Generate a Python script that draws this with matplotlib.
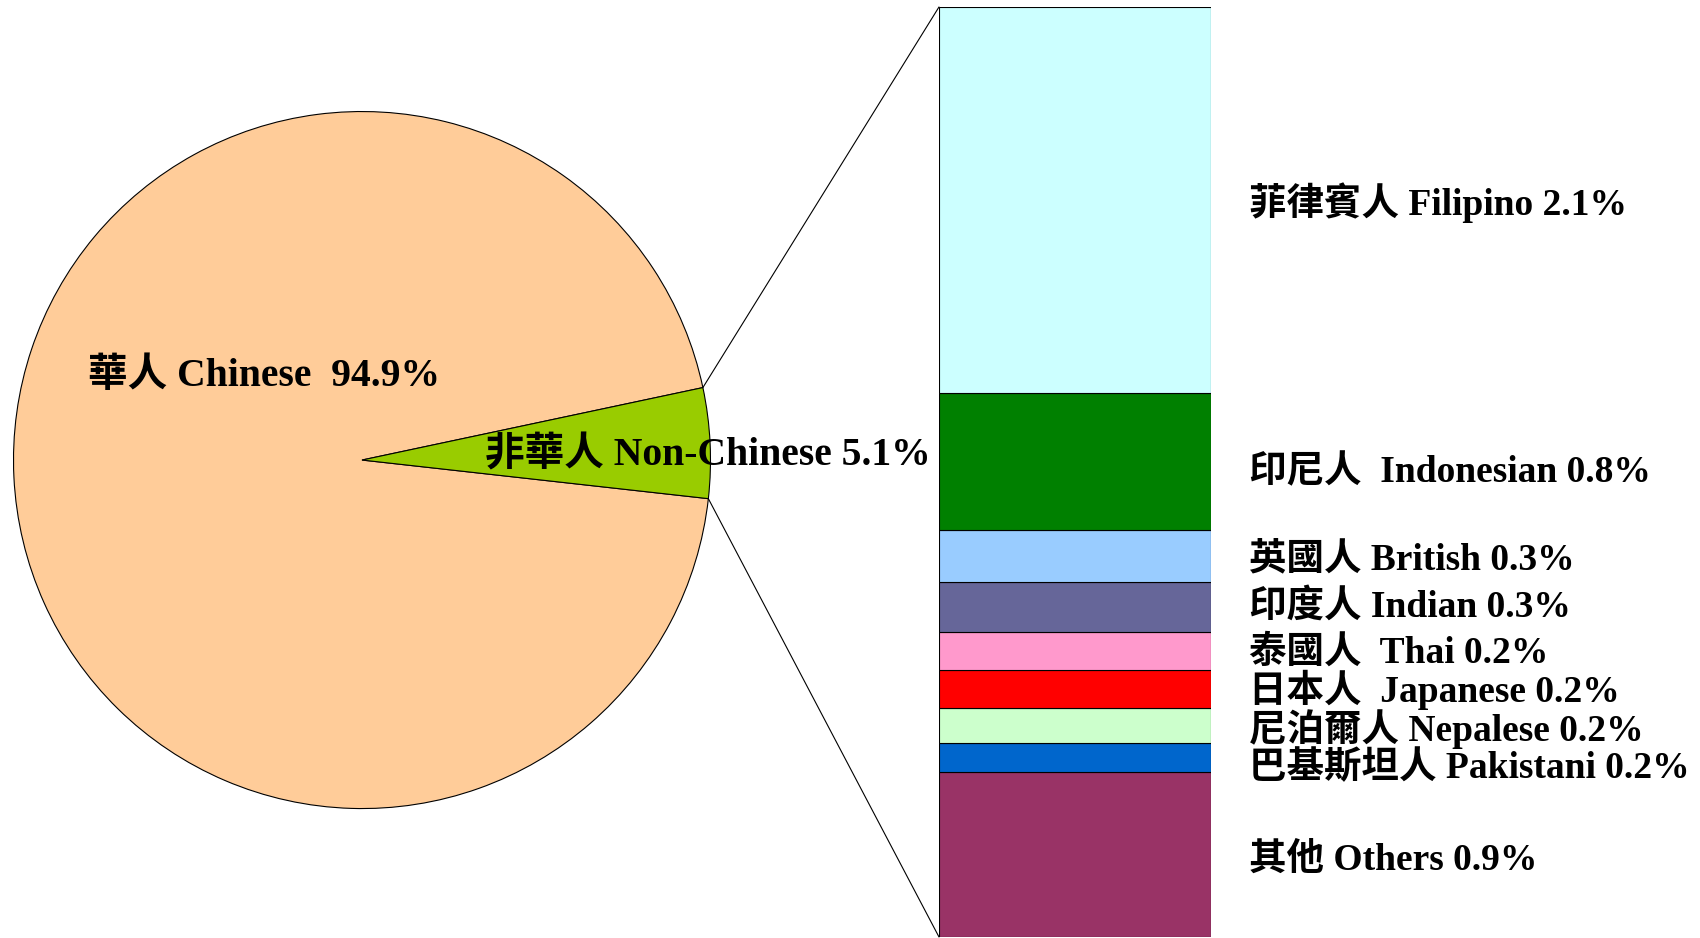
import matplotlib
matplotlib.use("Agg")
import matplotlib.pyplot as plt
from matplotlib.patches import ConnectionPatch
import numpy as np

# ---- data ----
pie_labels = ["華人 Chinese  94.9%", "非華人 Non-Chinese 5.1%"]
pie_values = [94.9, 5.1]
pie_colors = ["#FFCC99", "#99CC00"]

# breakdown of non-Chinese (top to bottom in the bar)
sub_labels = ["菲律賓人 Filipino 2.1%", "印尼人  Indonesian 0.8%", "英國人 British 0.3%",
              "印度人 Indian 0.3%", "泰國人  Thai 0.2%", "日本人  Japanese 0.2%",
              "尼泊爾人 Nepalese 0.2%", "巴基斯坦人 Pakistani 0.2%", "其他 Others 0.9%"]
sub_values = [2.12, 0.75, 0.285, 0.274, 0.208, 0.208, 0.19, 0.161, 0.905]
sub_colors = ["#CCFFFF", "#008000", "#99CCFF", "#666699", "#FF99CC", "#FF0000",
              "#CCFFCC", "#0066CC", "#993366"]

# layout: small vertical nudges of the right-hand labels (pixels, downward)
label_nudge_px = [2, 11, 3, 0, 2, 1, 4, 11, 6]

FONT = ["Liberation Serif", "Noto Sans CJK TC"]
FS_PIE = 28.5
FS_SUB = 27

fig = plt.figure(figsize=(17, 9.38), dpi=100)
fig.patch.set_facecolor("white")

# ---- pie ----
ax_pie = fig.add_axes([0.00794, 0.138, 0.41, 0.7431])
wedges, _ = ax_pie.pie(pie_values, colors=pie_colors, startangle=12, counterclock=True,
                       radius=1, center=(0, 0),
                       wedgeprops=dict(edgecolor="black", linewidth=0.8))
ax_pie.set_xlim(-1, 1)
ax_pie.set_ylim(-1, 1)
ax_pie.set_aspect("auto")
ax_pie.axis("off")

ax_pie.text(-0.785, 0.24, pie_labels[0], ha="left", va="center", fontsize=FS_PIE,
            family=FONT, weight="bold")
ax_pie.text(0.353, 0.014, pie_labels[1], ha="left", va="center", fontsize=FS_PIE,
            family=FONT, weight="bold", zorder=10)

# ---- stacked bar ----
ax_bar = fig.add_axes([0.55235, 0.00107, 0.16, 0.9915])
total = sum(sub_values)
bottom = 0.0
centers = []
for val, col in zip(reversed(sub_values), reversed(sub_colors)):
    ax_bar.bar(0, val, width=1, bottom=bottom, color=col, edgecolor="black", linewidth=0.8)
    centers.append(bottom + val / 2)
    bottom += val
centers = centers[::-1]
ax_bar.set_xlim(-0.5, 0.5)
ax_bar.set_ylim(0, total)
ax_bar.axis("off")

for lab, yc, dy in zip(sub_labels, centers, label_nudge_px):
    ax_bar.annotate(lab, xy=(0.64, yc), xycoords="data",
                    xytext=(0, -dy * 72 / 100), textcoords="offset points",
                    ha="left", va="center", fontsize=FS_SUB, family=FONT,
                    weight="bold", annotation_clip=False)

# ---- connecting lines ----
w = wedges[1]
t_up = np.deg2rad(w.theta2)
t_lo = np.deg2rad(w.theta1)
con1 = ConnectionPatch(xyA=(np.cos(t_up), np.sin(t_up)), coordsA=ax_pie.transData,
                       xyB=(-0.5, total), coordsB=ax_bar.transData,
                       color="black", linewidth=0.8)
con2 = ConnectionPatch(xyA=(np.cos(t_lo), np.sin(t_lo)), coordsA=ax_pie.transData,
                       xyB=(-0.5, 0), coordsB=ax_bar.transData,
                       color="black", linewidth=0.8)
fig.add_artist(con1)
fig.add_artist(con2)

fig.savefig("out.png", dpi=100, facecolor="white")
